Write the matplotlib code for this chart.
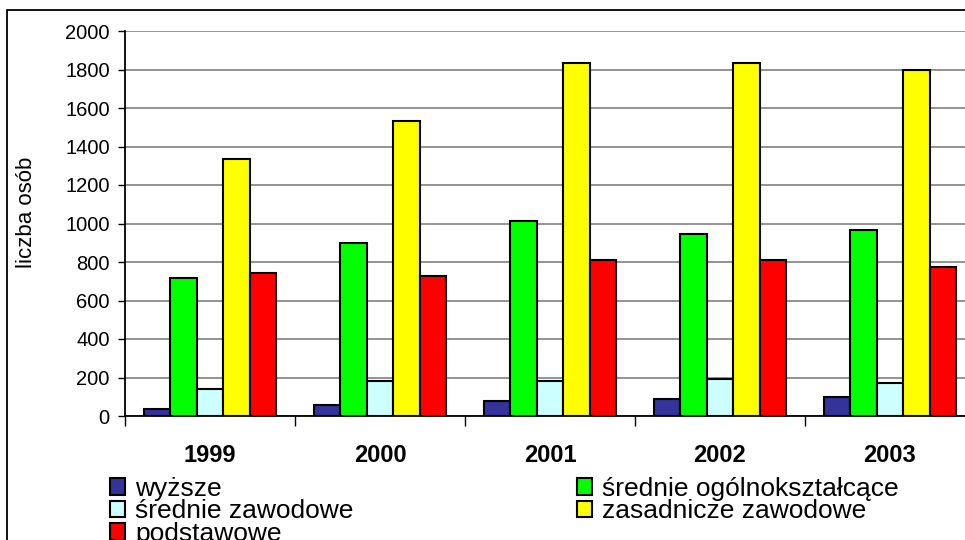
import numpy as np
import matplotlib.pyplot as plt
from matplotlib.patches import Rectangle

plt.rcParams['font.family'] = ['Liberation Sans', 'DejaVu Sans']

# dane
years = ['1999', '2000', '2001', '2002', '2003']
labels = ['wyższe', 'średnie ogólnokształcące', 'średnie zawodowe',
          'zasadnicze zawodowe', 'podstawowe']
wyzsze = [38, 59, 80, 90, 100]
srednie_ogolne = [715, 900, 1015, 945, 965]
srednie_zawodowe = [142, 183, 183, 192, 171]
zasadnicze = [1335, 1535, 1835, 1835, 1795]
podstawowe = [745, 725, 810, 810, 775]
colors = ['#333399', '#00FF00', '#CCFFFF', '#FFFF00', '#FF0000']

series = [wyzsze, srednie_ogolne, srednie_zawodowe, zasadnicze, podstawowe]

W, H = 965, 540
fig = plt.figure(figsize=(W / 100, H / 100), dpi=100)
ax = fig.add_axes([125 / W, 1 - 416 / H, 850 / W, 385 / H])

x = np.arange(len(years))
bw = 0.156
bars = []
for i, (vals, c) in enumerate(zip(series, colors)):
    b = ax.bar(x + (i - 2) * bw, vals, bw, color=c, edgecolor='black',
               linewidth=1.5, zorder=3, label=labels[i])
    bars.append(b)

ax.set_xlim(-0.5, len(years) - 0.5)
ax.set_ylim(0, 2000)
ax.set_yticks(np.arange(0, 2001, 200))
ax.yaxis.grid(True, color='#808080', linewidth=1.2, zorder=0)
ax.tick_params(axis='y', labelsize=14.5, length=5, width=1, pad=6)

ax.set_xticks(np.arange(-0.5, len(years), 1.0))
ax.set_xticklabels([])
ax.tick_params(axis='x', which='major', length=7, width=1, direction='out')
ax.set_xticks(x, minor=True)
ax.set_xticklabels(years, minor=True, fontsize=17, fontweight='bold')
ax.tick_params(axis='x', which='minor', length=0, pad=20)

for s in ['top', 'right']:
    ax.spines[s].set_visible(False)
for s in ['left', 'bottom']:
    ax.spines[s].set_linewidth(1.3)

ax.set_ylabel('liczba osób', fontsize=16)
ax.yaxis.set_label_coords(37 / W, 1 - 212 / H, transform=fig.transFigure)

# legenda - kolejnosc wierszami jak w Excelu
order = [0, 2, 4, 1, 3]
handles = [bars[i] for i in order]
fig.legend(handles, [labels[i] for i in order], ncol=2, loc='upper left',
           bbox_to_anchor=(110 / W, 1 - 477 / H), frameon=False,
           fontsize=19, handlelength=0.58, handleheight=0.58,
           handletextpad=0.38, labelspacing=-0.06, columnspacing=8.45,
           borderpad=0, borderaxespad=0)

# ramka wykresu
fig.patches.append(Rectangle((7 / W, -0.1), 1.1, 1 - 10 / H + 0.1,
                             transform=fig.transFigure, fill=False,
                             edgecolor='black', linewidth=1.3))

fig.savefig('out.png', dpi=100)
